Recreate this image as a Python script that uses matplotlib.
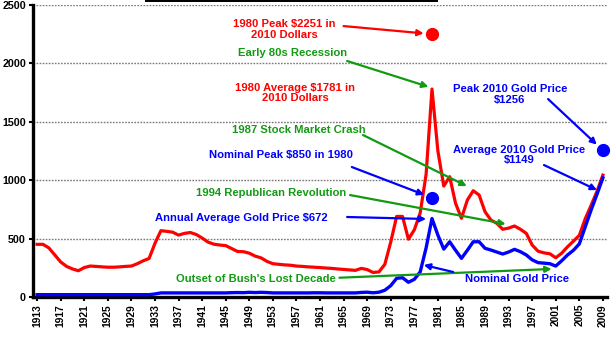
import matplotlib
matplotlib.use("Agg")
import matplotlib.pyplot as plt
import numpy as np

plt.rcParams['font.family'] = ['Liberation Sans', 'DejaVu Sans']
plt.rcParams['font.weight'] = 'bold'

years = list(range(1913, 2010))

# Gold price in constant 2010 dollars
real_price = [
    451, 451, 420, 360, 300, 262, 240, 225, 252, 265,          # 1913-1922
    262, 258, 255, 255, 258, 262, 265, 285, 310, 330,          # 1923-1932
    460, 568, 562, 555, 530, 545, 552, 535, 505, 470,          # 1933-1942
    452, 445, 440, 415, 390, 388, 375, 350, 335, 305,          # 1943-1952
    285, 280, 275, 272, 265, 262, 258, 255, 252, 248,          # 1953-1962
    245, 240, 236, 232, 228, 245, 235, 210, 215, 280,          # 1963-1972
    470, 690, 690, 495, 575, 720, 1050, 1781, 1250, 950,       # 1973-1982
    1030, 802, 674, 830, 910, 873, 730, 659, 631, 580,         # 1983-1992
    590, 608, 580, 545, 445, 392, 378, 370, 336, 375,          # 1993-2002
    430, 478, 528, 670, 785, 905, 1044,                        # 2003-2009
]

# Nominal annual average gold price
nominal_price = [
    20, 20, 20, 20, 20, 20, 20, 20, 20, 20,                    # 1913-1922
    20, 20, 20, 20, 20, 20, 20, 20, 20, 20,                    # 1923-1932
    26, 35, 35, 35, 35, 35, 35, 35, 35, 35,                    # 1933-1942
    35, 35, 35, 37, 38, 37, 40, 38, 40, 38,                    # 1943-1952
    35, 35, 35, 35, 35, 35, 35, 36, 36, 35,                    # 1953-1962
    35, 35, 35, 35, 35, 39, 41, 36, 41, 58,                    # 1963-1972
    97, 160, 165, 126, 151, 215, 420, 672, 530, 410,           # 1973-1982
    473, 400, 331, 400, 473, 473, 417, 402, 385, 368,          # 1983-1992
    385, 408, 388, 360, 318, 294, 290, 285, 265, 310,          # 1993-2002
    360, 400, 455, 600, 745, 880, 1020,                        # 2003-2009
]

peak_1980_real = 2251
peak_1980_nominal = 850
peak_2010 = 1256

tick_years = list(range(1913, 2010, 4))
y_ticks = [0, 500, 1000, 1500, 2000, 2500]

RED = '#ff0000'
BLUE = '#0000ff'
GREEN = '#129a12'

fig = plt.figure(figsize=(6.11, 3.37), dpi=100)
ax = fig.add_axes([0.054, 0.1187, 0.9395, 0.8663])

ax.set_xlim(1912.3, 2009.7)
ax.set_ylim(0, 2500)

for v in y_ticks[1:]:
    ax.axhline(v, color='#7a7a7a', lw=1.0, ls=(0, (1.2, 1.0)), zorder=0)

ax.plot(years, real_price, color=RED, lw=2.3, solid_joinstyle='round', zorder=3)
ax.plot(years, nominal_price, color=BLUE, lw=2.4, solid_joinstyle='round', zorder=3)

ax.plot([1980], [peak_1980_real], 'o', color=RED, ms=8.5, zorder=4)
ax.plot([1980], [peak_1980_nominal], 'o', color=BLUE, ms=8.5, zorder=4)
ax.plot([2009], [peak_2010], 'o', color=BLUE, ms=8.5, zorder=4, clip_on=False)

for s in ['top', 'right']:
    ax.spines[s].set_visible(False)
for s in ['left', 'bottom']:
    ax.spines[s].set_linewidth(2.4)
    ax.spines[s].set_color('black')

ax.set_xticks(tick_years)
ax.set_xticklabels([str(y) for y in tick_years], rotation=90, fontsize=7.4, fontweight='bold')
ax.set_yticks(y_ticks)
ax.set_yticklabels([str(v) for v in y_ticks], fontsize=7.7, fontweight='bold')
ax.tick_params(axis='both', direction='out', length=3, width=1.5, color='black', pad=2)


def note(text, xy_text, color, xy=None, start=None, shrink_b=0):
    ax.text(xy_text[0], xy_text[1], text, color=color, fontsize=8.1, fontweight='bold',
            ha='center', va='center', linespacing=1.12, zorder=5)
    if xy is not None:
        ax.annotate('', xy=xy, xytext=start,
                    arrowprops=dict(arrowstyle='-|>', color=color, lw=1.6,
                                    mutation_scale=9, shrinkA=0, shrinkB=shrink_b),
                    zorder=5, annotation_clip=False)


note('1980 Peak $2251 in\n2010 Dollars', (1954.9, 2290), RED,
     xy=(1980, peak_1980_real), start=(1965.0, 2320), shrink_b=6)
note('Early 80s Recession', (1956.4, 2089), GREEN,
     xy=(1979.4, 1800), start=(1965.6, 2021))
note('1980 Average $1781 in\n2010 Dollars', (1956.8, 1747), RED)
note('1987 Stock Market Crash', (1957.4, 1430), GREEN,
     xy=(1985.9, 950), start=(1968.3, 1387))
note('Nominal Peak $850 in 1980', (1954.4, 1216), BLUE,
     xy=(1980, peak_1980_nominal), start=(1966.4, 1113), shrink_b=6)
note('1994 Republican Revolution', (1952.7, 890), GREEN,
     xy=(1992.5, 625), start=(1966.1, 873))
note('Annual Average Gold Price $672', (1947.6, 676), BLUE,
     xy=(1979.0, 668), start=(1965.6, 685))
note("Outset of Bush's Lost Decade", (1950.2, 154), GREEN,
     xy=(2000.3, 240), start=(1964.3, 165))
note('Nominal Gold Price', (1994.4, 154), BLUE,
     xy=(1978.6, 274), start=(1983.6, 214))
note('Peak 2010 Gold Price\n$1256', (1993.2, 1738), BLUE,
     xy=(2009, peak_2010), start=(1999.7, 1695), shrink_b=6)
note('Average 2010 Gold Price\n$1149', (1994.8, 1216), BLUE,
     xy=(2008.0, 916), start=(1999.0, 1130))

# top edge of the heading box
fig.add_artist(plt.Rectangle((145 / 611, 1 - 2 / 337), (438 - 145) / 611, 2 / 337,
                             transform=fig.transFigure, color='black', lw=0))

fig.savefig('out.png', dpi=100)
